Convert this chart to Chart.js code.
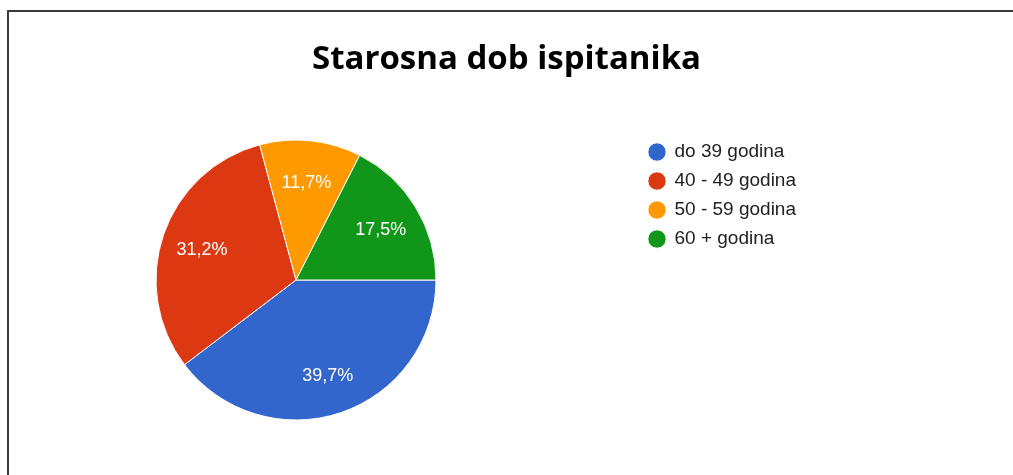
<!DOCTYPE html>
<html>
<head>
<meta charset="utf-8">
<script src="https://cdn.jsdelivr.net/npm/chart.js@4/dist/chart.umd.min.js"></script>
<style>
    html, body { margin: 0; padding: 0; background: #fff; overflow: hidden; }
    body { width: 1013px; height: 475px; position: relative; }
    #okvir {
        position: absolute; left: 7px; top: 10px; right: -10px; bottom: -10px;
        border-left: 2px solid #3a3a3a; border-top: 2px solid #3a3a3a;
    }
    #wrap { position: absolute; left: -47px; top: 0; width: 1107px; height: 475px; }
</style>
</head>
<body>
<div id="okvir"></div>
<div id="wrap"><canvas id="myChart"></canvas></div>
<script>
'use strict'

// PODACI
var naslov = "Starosna dob ispitanika";
var kategorije = ["do 39 godina", "40 - 49 godina", "50 - 59 godina", "60 + godina"];
var postoci = [39.7, 31.2, 11.7, 17.5];
var boje = ['#3366cc', '#dc3912', '#ff9900', '#109618'];

// legenda sirine tako da pita ostane lijevo
var sirinaLegende = {
    id: 'sirinaLegende',
    beforeInit: function (chart) {
        var fit = chart.legend.fit;
        chart.legend.fit = function () {
            fit.call(this);
            this.width = 421;
        };
    }
};

// postoci na kriskama
var oznake = {
    id: 'oznake',
    afterDatasetsDraw: function (chart) {
        var ctx = chart.ctx;
        var meta = chart.getDatasetMeta(0);
        ctx.save();
        ctx.fillStyle = '#ffffff';
        ctx.font = '18px "Liberation Sans", Arial, sans-serif';
        ctx.textAlign = 'center';
        ctx.textBaseline = 'middle';
        meta.data.forEach(function (arc, i) {
            var p = arc.getProps(['x', 'y', 'startAngle', 'endAngle', 'outerRadius'], true);
            var kut = (p.startAngle + p.endAngle) / 2;
            var r = p.outerRadius * 0.71;
            var tekst = postoci[i].toFixed(1).replace('.', ',') + '%';
            ctx.fillText(tekst, p.x + Math.cos(kut) * r, p.y + Math.sin(kut) * r + 2);
        });
        ctx.restore();
    }
};

var ctx = document.getElementById('myChart').getContext('2d');

var chart = new Chart(ctx, {
    type: 'pie',
    data: {
        labels: kategorije,
        datasets: [{
            data: postoci,
            backgroundColor: boje,
            borderColor: '#ffffff',
            borderWidth: 1,
            hoverOffset: 0,
            radius: 140
        }]
    },
    options: {
        responsive: true,
        maintainAspectRatio: false,
        animation: false,
        rotation: 90,
        events: [],
        layout: {
            padding: { left: 0, right: 0, top: 0, bottom: 47.5 }
        },
        plugins: {
            title: {
                display: true,
                text: naslov,
                color: '#000000',
                font: { family: '"Open Sans"', size: 33, weight: 'bold', lineHeight: 1.2 },
                padding: { top: 40.2, bottom: 52.7 }
            },
            legend: {
                position: 'right',
                align: 'start',
                fullSize: false,
                labels: {
                    usePointStyle: true,
                    pointStyle: 'circle',
                    boxWidth: 16,
                    boxHeight: 13,
                    padding: 10,
                    color: '#222222',
                    font: { family: '"Liberation Sans", Arial, sans-serif', size: 19 }
                }
            },
            tooltip: { enabled: false }
        }
    },
    plugins: [sirinaLegende, oznake]
});
</script>
</body>
</html>
